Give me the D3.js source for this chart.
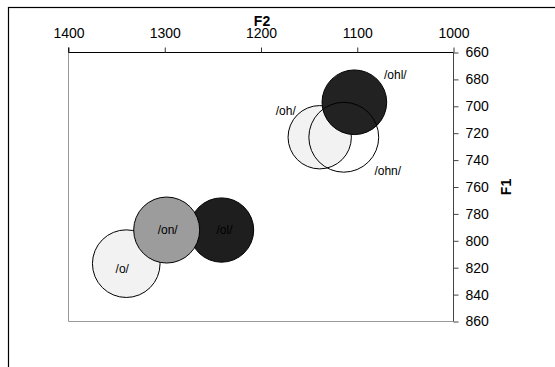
<!DOCTYPE html>
<html>
<head>
<meta charset="utf-8">
<script src="https://cdn.jsdelivr.net/npm/d3@7"></script>
<style>
  body { margin: 0; background: #fff; }
  svg text { font-family: "Liberation Sans", Arial, sans-serif; }
</style>
</head>
<body>
<div id="chart"></div>
<script>
// vowel categories, F2 / F1 means (Hz) and relative bubble size
const vowels = ["/ol/", "/o/", "/on/", "/oh/", "/ohl/", "/ohn/"];
const f2Values = [1241, 1340, 1298, 1139, 1103, 1114];
const f1Values = [792, 817, 792, 723, 697, 723];
const sizeValues = [0.95, 1.05, 1.0, 0.92, 0.96, 1.12];
const fills = ["#1e1e1e", "#f2f2f2", "#9c9c9c", "#f2f2f2", "#222222", "none"];

const f2Ticks = [1400, 1300, 1200, 1100, 1000];
const f1Ticks = [660, 680, 700, 720, 740, 760, 780, 800, 820, 840, 860];

const width = 555, height = 367;
const svg = d3.select("#chart").append("svg")
    .attr("width", width)
    .attr("height", height);

// outer frame (runs off the right / bottom edge)
svg.append("rect")
    .attr("x", 8.5).attr("y", 7.5)
    .attr("width", 600).attr("height", 400)
    .attr("fill", "none")
    .attr("stroke", "#000")
    .attr("stroke-width", 1.2);

const x = d3.scaleLinear().domain([1400, 1000]).range([68.5, 453.5]);
const y = d3.scaleLinear().domain([660, 860]).range([52.5, 321.5]);
const r = d3.scaleSqrt().domain([0, 1]).range([0, 33]);

// plot area: left and bottom edges are grey
svg.append("path")
    .attr("d", `M${x(1400)},${y(660)}V${y(860)}H${x(1000)}`)
    .attr("fill", "none")
    .attr("stroke", "#999");

const data = vowels.map((v, i) => ({
    label: v, f2: f2Values[i], f1: f1Values[i], size: sizeValues[i], fill: fills[i]
}));

svg.append("g").selectAll("circle")
    .data(data)
    .join("circle")
    .attr("cx", d => x(d.f2))
    .attr("cy", d => y(d.f1))
    .attr("r", d => r(d.size))
    .attr("fill", d => d.fill)
    .attr("stroke", "#000")
    .attr("stroke-width", 1);

// label offsets relative to bubble centre
const labelDx = [3, -4, 1, -34, 41, 44];
const labelDy = [0, 5, 0, -26, -27, 34];

svg.append("g").selectAll("text")
    .data(data)
    .join("text")
    .attr("x", (d, i) => x(d.f2) + labelDx[i])
    .attr("y", (d, i) => y(d.f1) + labelDy[i] + 4)
    .attr("text-anchor", "middle")
    .attr("font-size", "12px")
    .attr("fill", "#000")
    .text(d => d.label);

// top axis F2
const xAxis = svg.append("g")
    .attr("transform", `translate(0,${y(660)})`)
    .call(d3.axisTop(x).tickValues(f2Ticks).tickSize(5).tickPadding(10).tickFormat(d3.format("d")));
xAxis.select(".domain").attr("stroke", "#000").attr("d", `M${x(1400)},-5V0H${x(1000)}`);
xAxis.selectAll(".tick line").attr("stroke", "#333");
xAxis.selectAll("text").attr("font-size", "14px").attr("font-family", "Liberation Sans, Arial, sans-serif").attr("fill", "#000");

// right axis F1
const yAxis = svg.append("g")
    .attr("transform", `translate(${x(1000)},0)`)
    .call(d3.axisRight(y).tickValues(f1Ticks).tickSize(5).tickPadding(7));
yAxis.select(".domain").attr("stroke", "#444").attr("d", `M0,${y(660)}V${y(860)}`);
yAxis.selectAll(".tick line").attr("stroke", "#444");
yAxis.selectAll("text").attr("font-size", "14px").attr("font-family", "Liberation Sans, Arial, sans-serif").attr("fill", "#000");

// axis titles
svg.append("text")
    .attr("x", 262).attr("y", 26)
    .attr("text-anchor", "middle")
    .attr("font-size", "14px")
    .attr("font-weight", "bold")
    .text("F2");

svg.append("text")
    .attr("transform", "translate(511,187) rotate(-90)")
    .attr("text-anchor", "middle")
    .attr("font-size", "14px")
    .attr("font-weight", "bold")
    .text("F1");
</script>
</body>
</html>
